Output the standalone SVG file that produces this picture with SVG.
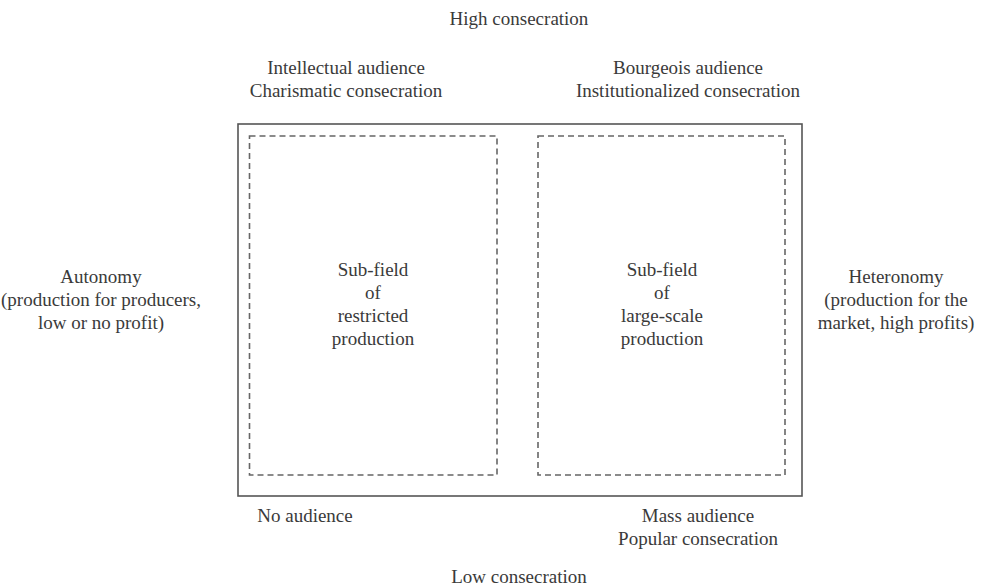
<svg xmlns="http://www.w3.org/2000/svg" width="985" height="587" viewBox="0 0 985 587">
<style>
text{font-family:"Liberation Serif","Times New Roman",serif;font-size:19px;fill:#3a3a3a;text-anchor:middle}
.outer{fill:none;stroke:#555;stroke-width:1.6}
.dash{fill:none;stroke:#666;stroke-width:1.6;stroke-dasharray:6,4}
</style>
<rect width="985" height="587" fill="#fff"/>
<g id="field"><rect class="outer" x="238" y="124" width="564" height="372"/></g>
<g id="restricted">
<rect class="dash" x="249.5" y="136" width="247.5" height="339"/>
<text x="373" y="276">Sub-field</text>
<text x="373" y="299">of</text>
<text x="373" y="322">restricted</text>
<text x="373" y="345">production</text>
</g>
<g id="largescale">
<rect class="dash" x="538" y="136" width="247" height="339"/>
<text x="662" y="276">Sub-field</text>
<text x="662" y="299">of</text>
<text x="662" y="322">large-scale</text>
<text x="662" y="345">production</text>
</g>
<g id="high"><text x="519" y="25">High consecration</text></g>
<g id="intellectual"><text x="346" y="74">Intellectual audience</text><text x="346" y="97">Charismatic consecration</text></g>
<g id="bourgeois"><text x="688" y="74">Bourgeois audience</text><text x="688" y="97">Institutionalized consecration</text></g>
<g id="autonomy"><text x="101" y="283">Autonomy</text><text x="101" y="306">(production for producers,</text><text x="101" y="329">low or no profit)</text></g>
<g id="heteronomy"><text x="896" y="283">Heteronomy</text><text x="896" y="306">(production for the</text><text x="896" y="329">market, high profits)</text></g>
<g id="noaudience"><text x="305" y="522">No audience</text></g>
<g id="mass"><text x="698" y="522">Mass audience</text><text x="698" y="545">Popular consecration</text></g>
<g id="low"><text x="519" y="583">Low consecration</text></g>
<g id="connectors"/>
</svg>
